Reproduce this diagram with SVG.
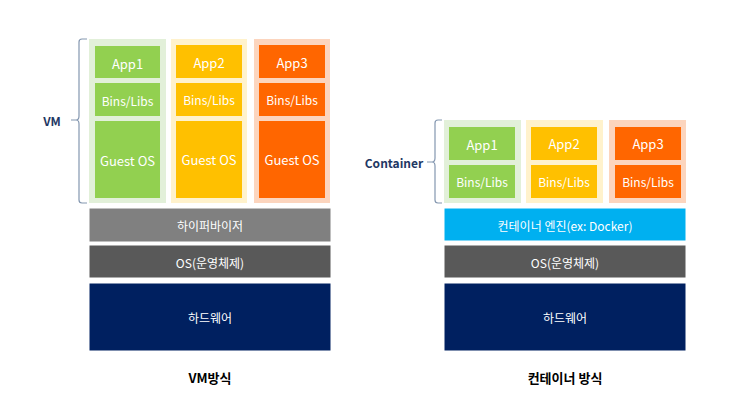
<svg xmlns="http://www.w3.org/2000/svg" width="733" height="396" viewBox="0 0 733 396">
<style>
text{font-family:"Noto Sans CJK KR","Noto Sans",sans-serif;text-anchor:middle;dominant-baseline:central;fill:#fff}
.t{font-size:12px}
.a{font-size:13px}
.g{fill:#92D050}.y{fill:#FFC000}.o{fill:#FF6600}
.lg{fill:#E2F0D9}.ly{fill:#FFF2CC}.lo{fill:#FCD5BE}
.lbl{fill:#1F3864;font-weight:bold;font-size:12px}
.cap{fill:#000;font-weight:bold;font-size:13px}
.bar{stroke:#ffffff;stroke-width:1}
.brace{fill:none;stroke:#8497B0;stroke-width:1.2}
</style>
<rect width="733" height="396" fill="#fff"/>
<g id="vm-app1">
<rect class="lg" x="89" y="39" width="77" height="164"/>
<rect class="g" x="95" y="46" width="65" height="32"/><text class="a" x="127.5" y="63">App1</text>
<rect class="g" x="95" y="83" width="65" height="33"/><text class="t" x="127.5" y="100">Bins/Libs</text>
<rect class="g" x="95" y="121" width="65" height="77"/><text class="a" x="127.5" y="160">Guest OS</text>
</g>
<g id="vm-app2">
<rect class="ly" x="171" y="39" width="76" height="164"/>
<rect class="y" x="176" y="45" width="66" height="33"/><text class="a" x="209" y="62">App2</text>
<rect class="y" x="176" y="83" width="66" height="33"/><text class="t" x="209" y="99">Bins/Libs</text>
<rect class="y" x="176" y="121" width="66" height="77"/><text class="a" x="209" y="159">Guest OS</text>
</g>
<g id="vm-app3">
<rect class="lo" x="254" y="39" width="76" height="164"/>
<rect class="o" x="259" y="45" width="66" height="33"/><text class="a" x="292" y="62">App3</text>
<rect class="o" x="259" y="83" width="66" height="33"/><text class="t" x="292" y="99">Bins/Libs</text>
<rect class="o" x="259" y="121" width="66" height="77"/><text class="a" x="292" y="159">Guest OS</text>
</g>
<g id="vm-hypervisor"><rect class="bar" x="89" y="208" width="242" height="34" fill="#808080"/><text class="t" x="210" y="225">하이퍼바이저</text></g>
<g id="vm-os"><rect class="bar" x="89" y="245" width="242" height="33" fill="#595959"/><text class="t" x="210" y="262">OS(운영체제)</text></g>
<g id="vm-hw"><rect class="bar" x="89" y="283" width="242" height="68" fill="#002060"/><text class="t" x="210" y="317">하드웨어</text></g>
<g id="vm-label"><text class="lbl" x="52" y="120">VM</text></g>
<g id="vm-caption"><text class="cap" x="210" y="377">VM방식</text></g>

<g id="ct-app1">
<rect class="lg" x="444" y="120" width="77" height="83"/>
<rect class="g" x="449" y="127" width="66" height="33"/><text class="a" x="482" y="144">App1</text>
<rect class="g" x="449" y="165" width="66" height="33"/><text class="t" x="482" y="181">Bins/Libs</text>
</g>
<g id="ct-app2">
<rect class="ly" x="526" y="120" width="77" height="83"/>
<rect class="y" x="531" y="127" width="66" height="33"/><text class="a" x="564" y="143">App2</text>
<rect class="y" x="531" y="165" width="66" height="33"/><text class="t" x="564" y="181">Bins/Libs</text>
</g>
<g id="ct-app3">
<rect class="lo" x="609" y="120" width="77" height="83"/>
<rect class="o" x="615" y="127" width="66" height="33"/><text class="a" x="648" y="143">App3</text>
<rect class="o" x="615" y="165" width="66" height="33"/><text class="t" x="648" y="181">Bins/Libs</text>
</g>
<g id="ct-engine"><rect class="bar" x="444" y="208" width="242" height="33" fill="#00B0F0"/><text class="t" x="565" y="225">컨테이너 엔진(ex: Docker)</text></g>
<g id="ct-os"><rect class="bar" x="444" y="245" width="242" height="33" fill="#595959"/><text class="t" x="565" y="262">OS(운영체제)</text></g>
<g id="ct-hw"><rect class="bar" x="444" y="283" width="242" height="68" fill="#002060"/><text class="t" x="565" y="317">하드웨어</text></g>
<g id="ct-label"><text class="lbl" x="394" y="162">Container</text></g>
<g id="ct-caption"><text class="cap" x="565" y="377">컨테이너 방식</text></g>

<g id="connectors">
<path class="brace" d="M87,39 H82 Q79,39 79,42 V116 Q79,120 76,120 H71 M76,120 Q79,120 79,124 V200 Q79,203 82,203 H87"/>
<path class="brace" d="M442,120 H438 Q435,120 435,123 V158 Q435,162 432,162 H427 M432,162 Q435,162 435,166 V200 Q435,203 438,203 H442"/>
</g>
</svg>
